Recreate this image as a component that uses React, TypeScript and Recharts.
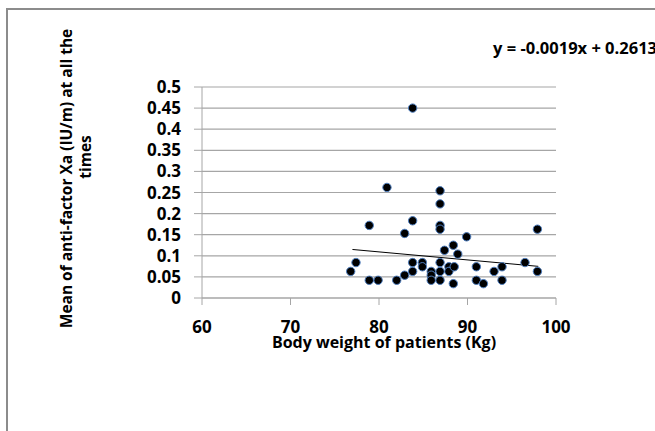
import { CartesianGrid, Scatter, ScatterChart, XAxis, YAxis } from 'recharts';

// body weight (Kg) of each patient
const weights = [
  83.8, 80.9, 86.9, 86.9, 83.8, 78.9, 86.9, 86.9, 82.9, 97.9,
  89.9, 88.4, 87.4, 88.9, 77.4, 76.8, 78.9, 79.9, 82.0, 82.9,
  83.8, 83.8, 84.9, 84.9, 85.9, 85.9, 85.9, 86.9, 86.9, 86.9,
  87.9, 87.9, 88.5, 88.4, 91.0, 91.0, 91.8, 93.0, 93.9, 93.9,
  96.5, 97.9,
];

// mean anti-factor Xa (IU/m) for the same patients
const antiXa = [
  0.45, 0.262, 0.254, 0.223, 0.183, 0.172, 0.172, 0.163, 0.153, 0.163,
  0.145, 0.125, 0.113, 0.104, 0.084, 0.063, 0.042, 0.042, 0.042, 0.054,
  0.084, 0.063, 0.084, 0.074, 0.063, 0.054, 0.042, 0.084, 0.063, 0.042,
  0.074, 0.063, 0.074, 0.034, 0.074, 0.042, 0.034, 0.063, 0.074, 0.042,
  0.084, 0.063,
];

// linear trendline ends (y = -0.0019x + 0.2613)
const trendX = [77, 98];
const trendY = [0.115, 0.075];

const xTicks = [60, 70, 80, 90, 100];
const yTicks = [0, 0.05, 0.1, 0.15, 0.2, 0.25, 0.3, 0.35, 0.4, 0.45, 0.5];

const points = weights.map((x, i) => ({ x, y: antiXa[i] }));
const trend = trendX.map((x, i) => ({ x, y: trendY[i] }));

const font = '"Open Sans", sans-serif';
const gray = '#a6a6a6';
const tickStyle = { fontSize: 17, fontWeight: 700, fill: '#000', fontFamily: font };

const Dot = (props: any) => (
  <circle cx={props.cx} cy={props.cy} r={4.2} fill="#000" stroke="#4f7fc0" strokeWidth={1} />
);

const App = () => (
  <div style={{ position: 'absolute', left: 0, top: 0, width: 655, height: 431, overflow: 'hidden', background: '#fff' }}>
    <div
      style={{
        position: 'absolute',
        left: 6,
        top: 8,
        width: 700,
        height: 500,
        borderLeft: '2px solid #8c8c8c',
        borderTop: '2px solid #8c8c8c',
      }}
    />
    <ScatterChart width={655} height={431} margin={{ top: 87, right: 99, bottom: 0, left: 0 }}>
      <CartesianGrid horizontal vertical={false} stroke={gray} strokeWidth={1.2} />
      <XAxis
        type="number"
        dataKey="x"
        domain={[60, 100]}
        ticks={xTicks}
        interval={0}
        height={133}
        tickSize={7}
        tickMargin={16}
        stroke={gray}
        tick={tickStyle}
      />
      <YAxis
        type="number"
        dataKey="y"
        domain={[0, 0.5]}
        ticks={yTicks}
        interval={0}
        width={202}
        tickSize={8}
        tickMargin={13}
        stroke={gray}
        tick={tickStyle}
      />
      <Scatter data={trend} line={{ stroke: '#000', strokeWidth: 1 }} shape={() => <g />} isAnimationActive={false} />
      <Scatter data={points} shape={Dot} isAnimationActive={false} />
    </ScatterChart>
    <svg width={655} height={431} style={{ position: 'absolute', left: 0, top: 0, pointerEvents: 'none' }}>
      <g fontFamily={font} fontWeight={700} fontSize={15.5} fill="#000" style={{ whiteSpace: 'pre' }}>
        <text x={66} y={178.5} transform="rotate(-90 66 178.5)" textAnchor="middle" dominantBaseline="central">
          {'Mean of anti-factor Xa (IU/m)  at all the'}
        </text>
        <text x={85} y={157} transform="rotate(-90 85 157)" textAnchor="middle" dominantBaseline="central">
          times
        </text>
        <text x={384} y={347.5} fontSize={16} textAnchor="middle">
          Body weight of patients (Kg)
        </text>
        <text x={493} y={47} fontSize={16.5} dominantBaseline="central">
          y = -0.0019x + 0.2613
        </text>
      </g>
    </svg>
  </div>
);

export default App;
